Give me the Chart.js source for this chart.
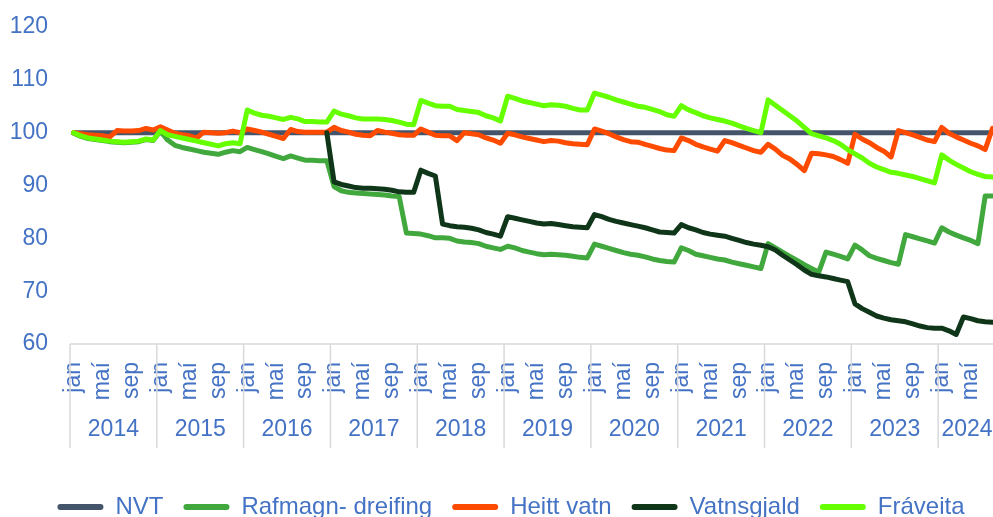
<!DOCTYPE html>
<html><head><meta charset="utf-8">
<script src="https://cdn.jsdelivr.net/npm/chart.js@4.4.1/dist/chart.umd.min.js"></script>
<style>html,body{margin:0;padding:0;background:#fff;overflow:hidden}#wrap{width:996px;height:517px}</style>
</head><body><div id="wrap"><canvas id="c" width="996" height="517"></canvas></div>
<script>
// ---- categories ----
const monthNames = ['jan','feb','mar','apr','maí','jún','júl','ágú','sep','okt','nóv','des'];
const shownMonths = ['jan','maí','sep'];
const years = [2014,2015,2016,2017,2018,2019,2020,2021,2022,2023,2024];
const monthsPerYear = [12,12,12,12,12,12,12,12,12,12,8];

// ---- series (index, monthly) ----
const nvt = [
100,100,100,100,100,100,100,100,100,100,100,100,
100,100,100,100,100,100,100,100,100,100,100,100,
100,100,100,100,100,100,100,100,100,100,100,100,
100,100,100,100,100,100,100,100,100,100,100,100,
100,100,100,100,100,100,100,100,100,100,100,100,
100,100,100,100,100,100,100,100,100,100,100,100,
100,100,100,100,100,100,100,100,100,100,100,100,
100,100,100,100,100,100,100,100,100,100,100,100,
100,100,100,100,100,100,100,100,100,100,100,100,
100,100,100,100,100,100,100,100,100,100,100,100,
100,100,100,100,100,100,100,100];
const rafmagnDreifing = [
99.9,99.3,98.9,98.7,98.5,98.3,98.2,98.1,98.2,98.3,98.7,98.5,
100.3,98.6,97.6,97.2,96.9,96.6,96.3,96.1,95.9,96.3,96.6,96.4,
97.2,96.8,96.4,96.0,95.5,95.1,95.6,95.2,94.8,94.8,94.7,94.7,
89.8,89.0,88.7,88.6,88.5,88.4,88.3,88.2,88.0,87.9,81.0,80.9,
80.8,80.5,80.1,80.1,80.0,79.5,79.3,79.2,79.0,78.5,78.2,77.9,
78.5,78.2,77.7,77.4,77.1,76.9,77.0,76.9,76.8,76.6,76.4,76.3,
78.9,78.5,78.1,77.7,77.3,77.0,76.8,76.5,76.1,75.8,75.6,75.5,
78.2,77.7,77.0,76.7,76.4,76.1,75.9,75.5,75.2,74.9,74.6,74.3,
79.0,78.2,77.4,76.6,75.8,75.0,74.3,73.6,77.4,77.0,76.6,76.1,
78.7,77.8,76.7,76.2,75.8,75.4,75.1,80.7,80.3,79.9,79.5,79.1,
82.0,81.2,80.6,80.1,79.6,79.0,88.0,88.0];
const heittVatn = [
100.0,99.8,99.6,99.5,99.4,99.2,100.4,100.3,100.3,100.4,100.8,100.5,
101.1,100.5,99.9,99.6,99.4,99.0,100.1,100.0,99.9,100.0,100.3,100.0,
100.7,100.4,100.1,99.7,99.3,98.9,100.6,100.2,100.1,100.1,100.1,100.1,
101.0,100.4,100.1,99.7,99.5,99.4,100.4,100.1,99.9,99.6,99.5,99.5,
100.7,100.1,99.5,99.4,99.4,98.5,100.0,99.8,99.6,99.0,98.6,98.0,
99.9,99.6,99.2,98.9,98.6,98.3,98.5,98.4,98.1,97.9,97.8,97.7,
100.7,100.3,99.8,99.2,98.7,98.3,98.2,97.8,97.4,97.0,96.7,96.6,
99.0,98.5,97.8,97.3,96.9,96.5,98.5,98.1,97.6,97.1,96.6,96.3,
97.8,96.9,95.7,95.0,94.0,92.8,96.1,96.0,95.8,95.5,94.9,94.2,
99.7,98.8,98.1,97.2,96.5,95.4,100.4,100.0,99.6,99.1,98.6,98.3,
101.0,99.9,99.2,98.6,98.0,97.5,96.8,100.8];
const vatnsgjald = [
null,null,null,null,null,null,null,null,null,null,null,null,
null,null,null,null,null,null,null,null,null,null,null,null,
null,null,null,null,null,null,null,null,null,null,null,100,
90.7,90.2,89.9,89.6,89.5,89.5,89.4,89.3,89.1,88.8,88.7,88.7,
92.9,92.3,91.8,82.7,82.4,82.2,82.1,81.9,81.6,81.1,80.8,80.4,
84.1,83.8,83.5,83.2,82.9,82.7,82.8,82.6,82.4,82.2,82.1,82.0,
84.5,84.1,83.6,83.2,82.9,82.6,82.3,82.0,81.6,81.2,81.1,81.0,
82.6,82.0,81.6,81.1,80.8,80.6,80.4,80.0,79.6,79.2,78.9,78.7,
78.4,77.8,76.8,75.9,75.0,74.0,73.2,72.9,72.7,72.4,72.1,71.8,
67.6,66.7,66.0,65.3,64.9,64.6,64.4,64.2,63.8,63.4,63.1,63.0,
63.0,62.5,61.8,65.1,64.8,64.4,64.2,64.1];
const fraveita = [
100.0,99.4,99.0,98.8,98.6,98.4,98.3,98.2,98.3,98.4,98.8,98.6,
100.4,99.6,99.3,99.0,98.7,98.4,98.1,97.8,97.5,97.9,98.1,97.9,
104.3,103.7,103.3,103.1,102.8,102.5,102.9,102.6,102.1,102.1,102.0,102.0,
104.1,103.5,103.2,102.8,102.6,102.6,102.6,102.5,102.3,102.0,101.6,101.5,
106.1,105.6,105.1,105.0,105.0,104.4,104.2,104.0,103.8,103.2,102.8,102.2,
106.9,106.5,106.0,105.7,105.4,105.1,105.3,105.2,105.0,104.6,104.3,104.3,
107.5,107.1,106.7,106.2,105.8,105.4,105.0,104.8,104.4,104.0,103.4,103.1,
105.1,104.3,103.8,103.2,102.8,102.5,102.2,101.8,101.3,100.8,100.4,100.0,
106.2,105.2,104.2,103.2,102.2,101.0,99.8,99.4,99.0,98.5,97.8,96.8,
96.0,95.2,94.2,93.5,93.0,92.5,92.3,92.0,91.7,91.3,90.9,90.5,
95.8,94.8,94.0,93.3,92.6,92.1,91.7,91.6];

const yTicks = [60,70,80,90,100,110,120];

// ---- build category list ----
const labels = [];
years.forEach((y, yi) => { for (let m = 0; m < monthsPerYear[yi]; m++) labels.push(monthNames[m] + ' ' + y); });

const FONT = '"Liberation Sans", Arial, sans-serif';
const BLUE = '#4472C4';
const LEG_DX = 13, LEG_DY = 12;

const yearAxisPlugin = {
  id: 'yearAxis',
  afterLayout(chart) {
    const lg = chart.legend;
    lg.left += LEG_DX; lg.right += LEG_DX; lg.top += LEG_DY; lg.bottom += LEG_DY;
  },
  afterDraw(chart) {
    const xs = chart.scales.x, ctx = chart.ctx, area = chart.chartArea;
    const step = xs.getPixelForValue(1) - xs.getPixelForValue(0);
    ctx.save();
    ctx.strokeStyle = '#d9d9d9'; ctx.lineWidth = 1.5;
    ctx.beginPath(); ctx.moveTo(area.left, area.bottom); ctx.lineTo(chart.width, area.bottom); ctx.stroke();
    ctx.font = '23px ' + FONT; ctx.fillStyle = BLUE; ctx.textAlign = 'center'; ctx.textBaseline = 'middle';
    let idx = 0;
    years.forEach((y, yi) => {
      const n = monthsPerYear[yi];
      const x0 = xs.getPixelForValue(idx) - step / 2;
      const x1 = xs.getPixelForValue(idx + n - 1) + step / 2;
      ctx.beginPath(); ctx.moveTo(x0, area.bottom); ctx.lineTo(x0, area.bottom + 104); ctx.stroke();
      ctx.fillText(String(y), (x0 + x1) / 2, area.bottom + 86);
      idx += n;
    });
    ctx.restore();
  }
};

function ds(label, data, color) {
  return { label, data, borderColor: color, backgroundColor: color, borderWidth: 5,
    pointRadius: 0, pointHoverRadius: 0, tension: 0, fill: false, spanGaps: false,
    borderJoinStyle: 'round', borderCapStyle: 'round' };
}

Chart.defaults.font.family = FONT;
Chart.defaults.font.size = 23;
Chart.defaults.color = BLUE;

new Chart(document.getElementById('c'), {
  type: 'line',
  data: {
    labels,
    datasets: [
      ds('Fráveita', fraveita, '#66FF00'),
      ds('Vatnsgjald', vatnsgjald, '#10361A'),
      ds('Heitt vatn', heittVatn, '#FF4B00'),
      ds('Rafmagn- dreifing', rafmagnDreifing, '#41A83E'),
      ds('NVT', nvt, '#44546A')
    ]
  },
  options: {
    responsive: false, animation: false, devicePixelRatio: 1,
    layout: { padding: { top: 27, left: 0, right: 0, bottom: 0 } },
    plugins: {
      tooltip: { enabled: false },
      legend: {
        position: 'bottom', reverse: true,
        labels: {
          boxWidth: 46, boxHeight: 6, padding: 20, color: BLUE, font: { size: 24, family: FONT },
          generateLabels(chart) {
            const items = Chart.defaults.plugins.legend.labels.generateLabels(chart);
            items.forEach(it => {
              const d = chart.data.datasets[it.datasetIndex];
              it.fillStyle = d.borderColor; it.strokeStyle = d.borderColor; it.lineWidth = 0; it.borderRadius = 3;
            });
            return items;
          }
        }
      }
    },
    scales: {
      x: {
        type: 'category', offset: true,
        grid: { display: false, drawTicks: false, offset: true },
        border: { display: false },
        ticks: {
          autoSkip: false, minRotation: 90, maxRotation: 90, padding: 18, color: BLUE, font: { size: 23 },
          callback(v, i) { const m = labels[i].split(' ')[0]; return shownMonths.includes(m) ? m : ''; }
        },
        afterFit(s) { s.height = 119; s.paddingLeft = 0; s.paddingRight = 0; }
      },
      y: {
        min: 60, max: 120,
        grid: { display: false, drawTicks: false },
        border: { display: false },
        afterBuildTicks(s) { s.ticks = yTicks.map(v => ({ value: v })); },
        ticks: { padding: 22, color: BLUE, font: { size: 23 } },
        afterFit(s) { s.width = 70; s.paddingTop = 0; s.paddingBottom = 0; }
      }
    }
  },
  plugins: [yearAxisPlugin]
});
</script></body></html>
